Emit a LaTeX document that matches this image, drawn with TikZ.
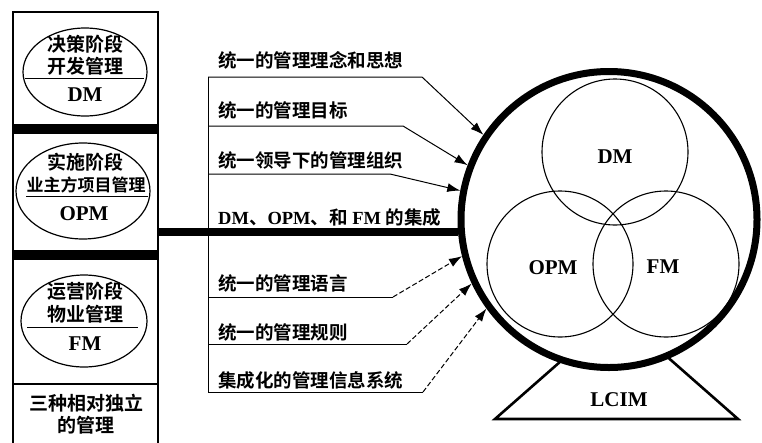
\documentclass[tikz,border=0pt]{standalone}
\usepackage{fontspec}
\setmainfont{Liberation Serif}
\newfontfamily\cjk{Noto Sans CJK SC}[BoldFont={Noto Sans CJK SC Bold}]
\usetikzlibrary{shapes.geometric,arrows.meta}
\newcommand\zh[1]{{\cjk\bfseries #1}}
\begin{document}
\begin{tikzpicture}[x=1pt,y=-1pt,
  boxline/.style={line width=1.5pt},
  band/.style={line width=10pt},
  oval/.style={draw, ellipse, line width=1.2pt, inner sep=0pt},
  zt/.style={inner sep=0pt, font=\fontsize{19}{21}\selectfont\cjk\bfseries},
  zts/.style={inner sep=0pt, font=\fontsize{17}{19}\selectfont\cjk\bfseries},
  lt/.style={inner sep=0pt, font=\fontsize{21}{23}\selectfont\bfseries},
  ct/.style={inner sep=0pt, font=\fontsize{21}{23}\selectfont\bfseries},
  lbl/.style={anchor=west, inner sep=0pt, font=\fontsize{18.5}{20}\selectfont\cjk\bfseries},
  conn/.style={line width=1pt, -{Latex[length=13pt,width=9pt]}},
  dconn/.style={conn, dash pattern=on 5pt off 2.5pt},
  plain/.style={line width=1pt},
  ring/.style={draw, circle, inner sep=0pt, line width=1.1pt, minimum size=146pt},
]
\useasboundingbox (0,0) rectangle (762,442);

% left column
\draw[boxline] (13,445) -- (13,12) -- (158,12) -- (158,445);
\draw[band] (13,129) -- (158,129);
\draw[band] (13,254.5) -- (158,254.5);
\draw[boxline] (13,384) -- (158,384);

\node[oval, minimum width=124pt, minimum height=88pt] (e1) at (85,72) {};
\node[oval, minimum width=134pt, minimum height=96pt] (e2) at (83,191) {};
\node[oval, minimum width=126pt, minimum height=92pt] (e3) at (84,321) {};

\node[zt] (t1a) at (85,44) {决策阶段};
\node[zt] (t1b) at (85,66) {开发管理};
\draw[plain] (25,78) -- (144,78);
\node[lt] (t1c) at (85,95) {DM};

\node[zt] (t2a) at (85,162) {实施阶段};
\node[zts] (t2b) at (86,185) {业主方项目管理};
\draw[plain] (26,196) -- (148,196);
\node[lt] (t2c) at (84,214) {OPM};

\node[zt] (t3a) at (85,291) {运营阶段};
\node[zt] (t3b) at (85,314) {物业管理};
\draw[plain] (27,327) -- (138,327);
\node[lt] (t3c) at (85,344) {FM};

\node[zt] (t4a) at (86,403) {三种相对独立};
\node[zt] (t4b) at (86,425) {的管理};

% big circle and stand
\draw[line width=2.6pt, line join=miter] (561.7,360.4) -- (495,419) -- (738,419) -- (665.5,355.3);
\node[ct] (lcim) at (619,400) {LCIM};

\node[draw, circle, line width=7pt, minimum size=296pt, inner sep=0pt] (big) at (609,219.5) {};
\node[ring] (cdm) at (615,152) {};
\node[ring] (copm) at (560,264) {};
\node[ring] (cfm) at (666,264) {};
\node[ct] (ldm) at (615,157) {DM};
\node[ct] (lopm) at (553,268) {OPM};
\node[ct] (lfm) at (663,267) {FM};

% connectors
\coordinate (top) at (208,77);
\coordinate (bot) at (208,392);
\draw[plain] (top) -- (bot);

\coordinate (s1) at (208,77);  \coordinate (b1) at (422,77);
\coordinate (s2) at (208,126); \coordinate (b2) at (403,126);
\coordinate (s3) at (208,174); \coordinate (b3) at (390,174);
\coordinate (s5) at (208,297); \coordinate (b5) at (393,297);
\coordinate (s6) at (208,344); \coordinate (b6) at (407,344);
\coordinate (s7) at (208,392); \coordinate (b7) at (423,392);

\draw[conn] (s1) -- (b1) -- (big.146.7);
\draw[conn] (s2) -- (b2) -- (big.159.2);
\draw[conn] (s3) -- (b3) -- (big.169.4);
\draw[plain] (s5) -- (b5); \draw[dconn] (b5) -- (big.194.2);
\draw[plain] (s6) -- (b6); \draw[dconn] (b6) -- (big.205.4);
\draw[plain] (s7) -- (b7); \draw[dconn] (b7) -- (big.216);

\coordinate (m0) at (158,232);
\draw[line width=8pt] (m0) -- (big.west |- m0);

\node[lbl] (l1) at (218,60) {统一的管理理念和思想};
\node[lbl] (l2) at (218,110) {统一的管理目标};
\node[lbl] (l3) at (218,160) {统一领导下的管理组织};
\node[lbl, font=\fontsize{18.5}{20}\selectfont\bfseries] (l4) at (218,217) {DM\zh{、}OPM\zh{、和} FM \zh{的集成}};
\node[lbl] (l5) at (218,283) {统一的管理语言};
\node[lbl] (l6) at (218,332) {统一的管理规则};
\node[lbl] (l7) at (218,380) {集成化的管理信息系统};
\end{tikzpicture}
\end{document}
